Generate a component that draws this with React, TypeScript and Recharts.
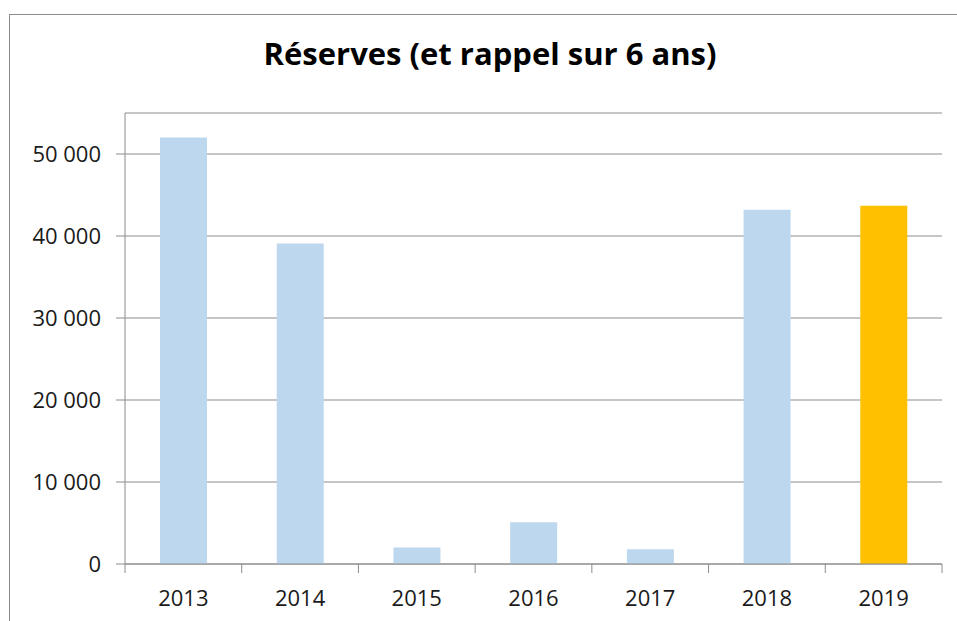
import { BarChart, Bar, XAxis, YAxis, CartesianGrid, Cell } from 'recharts';

const years = ['2013', '2014', '2015', '2016', '2017', '2018', '2019'];
const reserves = [52000, 39100, 2000, 5100, 1800, 43200, 43700];
const barColors = ['#BDD7EE', '#BDD7EE', '#BDD7EE', '#BDD7EE', '#BDD7EE', '#BDD7EE', '#FFC000'];
const majorTicks = [0, 10000, 20000, 30000, 40000, 50000];
const minorTicks = [0, 2500, 5000, 7500, 10000, 12500, 15000, 17500, 20000, 22500, 25000, 27500, 30000, 32500, 35000, 37500, 40000, 42500, 45000, 47500, 50000, 52500, 55000];

const data = years.map((year, i) => ({ year, value: reserves[i] }));

const fmt = (v: number) => String(v).replace(/\B(?=(\d{3})+(?!\d))/g, ' ');

const FONT = '"Open Sans", sans-serif';
const GREY = '#8c8c8c';

const XTick = (props: any) => {
  const { x, y, payload, index, width, visibleTicksCount } = props;
  const half = payload?.offset || (width && visibleTicksCount ? width / visibleTicksCount / 2 : 58);
  const last = index === visibleTicksCount - 1;
  return (
    <g>
      <line x1={x - half} y1={y} x2={x - half} y2={y + 9} stroke={GREY} />
      {last && <line x1={x + half} y1={y} x2={x + half} y2={y + 9} stroke={GREY} />}
      <text x={x} y={y + 42} textAnchor="middle" fill="#1a1a1a" fontSize={22} fontFamily={FONT}>
        {payload.value}
      </text>
    </g>
  );
};

export default function App() {
  return (
    <div style={{ position: 'fixed', left: 0, top: 0, width: 957, height: 621, overflow: 'hidden', background: '#fff' }}>
      {/* chart frame: only left and top edges are inside the picture */}
      <div
        style={{
          position: 'absolute', left: 9, top: 14, width: 960, height: 620,
          borderLeft: `1px solid ${GREY}`, borderTop: `1px solid ${GREY}`,
        }}
      />
      <div
        style={{
          position: 'absolute', left: 0, top: 38, width: 980, textAlign: 'center',
          fontFamily: FONT, fontWeight: 700, fontSize: 31, lineHeight: 1, color: '#000',
        }}
      >
        Réserves (et rappel sur 6 ans)
      </div>
      <div style={{ position: 'absolute', left: 0, top: 0 }}>
        <BarChart width={957} height={621} data={data} margin={{ top: 113, right: 15, bottom: 0, left: 0 }} barCategoryGap="30%">
          <CartesianGrid vertical={false} stroke={GREY} />
          <XAxis
            dataKey="year"
            height={57}
            tickLine={false}
            tickSize={0}
            tickMargin={0}
            axisLine={{ stroke: GREY }}
            tick={<XTick />}
            interval={0}
          />
          <YAxis
            width={125}
            domain={[0, 55000]}
            ticks={majorTicks}
            tickFormatter={fmt}
            tickSize={9}
            tickMargin={15}
            tickLine={{ stroke: GREY }}
            axisLine={{ stroke: GREY }}
            tick={{ fill: '#1a1a1a', fontSize: 22, fontFamily: FONT }}
          />
          <YAxis
            yAxisId="minor"
            mirror
            width={0}
            domain={[0, 55000]}
            ticks={minorTicks}
            tick={false}
            tickSize={8}
            tickLine={{ stroke: GREY }}
            axisLine={{ stroke: GREY }}
          />
          <Bar dataKey="value" isAnimationActive={false}>
            {data.map((d, i) => (
              <Cell key={d.year} fill={barColors[i]} />
            ))}
          </Bar>
        </BarChart>
      </div>
    </div>
  );
}
